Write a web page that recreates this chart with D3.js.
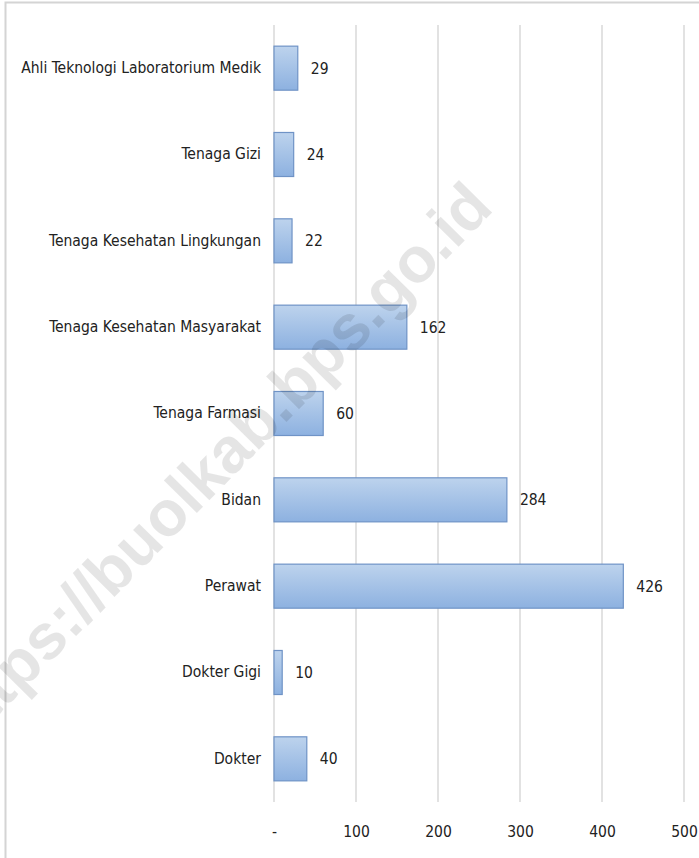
<html>
<head>
<meta charset="utf-8">
<title>Tenaga Kesehatan</title>
<style>
  body { margin: 0; background: #fff; }
  .lbl { font-family: "DejaVu Sans Condensed", "DejaVu Sans", sans-serif; font-stretch: condensed; }
</style>
</head>
<body>
<script src="https://cdn.jsdelivr.net/npm/d3@7/dist/d3.min.js"></script>
<script>

// data, top to bottom as in the picture
var categories = ["Ahli Teknologi Laboratorium Medik", "Tenaga Gizi", "Tenaga Kesehatan Lingkungan",
                  "Tenaga Kesehatan Masyarakat", "Tenaga Farmasi", "Bidan", "Perawat", "Dokter Gigi", "Dokter"];
var values = [29, 24, 22, 162, 60, 284, 426, 10, 40];
var ticks = [0, 100, 200, 300, 400, 500];
var tickLabels = ["-", "100", "200", "300", "400", "500"];

var width = 699, height = 858;
var mLeft = 274, mRight = 684, mTop = 25, mBottom = 802;

var svg = d3.select("body").append("svg")
    .attr("width", width)
    .attr("height", height);

// gradient for bars
var grad = svg.append("defs").append("linearGradient")
    .attr("id", "barGrad")
    .attr("x1", 0).attr("y1", 0).attr("x2", 0).attr("y2", 1);
grad.append("stop").attr("offset", "0%").attr("stop-color", "#bdd3ed");
grad.append("stop").attr("offset", "100%").attr("stop-color", "#8db1e0");

// frame
svg.append("path")
    .attr("d", "M5.5," + height + "V2.5H" + width)
    .attr("fill", "none")
    .attr("stroke", "#d4d4d4")
    .attr("stroke-width", 2);

var x = d3.scaleLinear().domain([0, 500]).range([mLeft, mRight]);
var y = d3.scaleBand().domain(categories).range([mTop, mBottom]).paddingInner(0.49).paddingOuter(0.245);

// gridlines
svg.selectAll(".grid").data(ticks).enter().append("line")
    .attr("x1", d => x(d)).attr("x2", d => x(d))
    .attr("y1", mTop).attr("y2", mBottom)
    .attr("stroke", "#d9d9d9")
    .attr("stroke-width", 1.5);

// bars
svg.selectAll(".bar").data(values).enter().append("rect")
    .attr("x", x(0))
    .attr("y", (d, i) => y(categories[i]))
    .attr("width", d => x(d) - x(0))
    .attr("height", y.bandwidth())
    .attr("fill", "url(#barGrad)")
    .attr("stroke", "#6f93c6")
    .attr("stroke-width", 1.2);

// value labels
svg.selectAll(".val").data(values).enter().append("text")
    .attr("class", "lbl")
    .attr("x", d => x(d) + 13)
    .attr("y", (d, i) => y(categories[i]) + y.bandwidth() / 2)
    .attr("dy", "0.35em")
    .attr("font-size", 15.5)
    .attr("fill", "#222")
    .text(d => d);

// category labels
var yAxis = d3.axisLeft(y).tickSize(0).tickPadding(13);
var ga = svg.append("g").attr("transform", "translate(" + mLeft + ",0)").call(yAxis);
ga.select(".domain").remove();
ga.attr("font-family", null).attr("font-size", null);
ga.selectAll("text").attr("class", "lbl").attr("font-size", 15.5).attr("fill", "#222");

// x tick labels
var xAxis = d3.axisBottom(x).tickValues(ticks).tickSize(0).tickPadding(0)
    .tickFormat((d, i) => tickLabels[i]);
var gx = svg.append("g").attr("transform", "translate(0,826)").call(xAxis);
gx.select(".domain").remove();
gx.attr("font-family", null).attr("font-size", null);
gx.selectAll("text").attr("class", "lbl").attr("font-size", 15.5).attr("fill", "#222");

// watermark, over everything
svg.append("text")
    .attr("transform", "translate(-38,752) rotate(-45.5)")
    .style("font-family", "'Liberation Sans', Arial, sans-serif")
    .attr("font-size", 64)
    .attr("font-weight", "bold")
    .attr("fill", "#000")
    .attr("fill-opacity", 0.1)
    .text("https://buolkab.bps.go.id");

</script>
</body>
</html>
